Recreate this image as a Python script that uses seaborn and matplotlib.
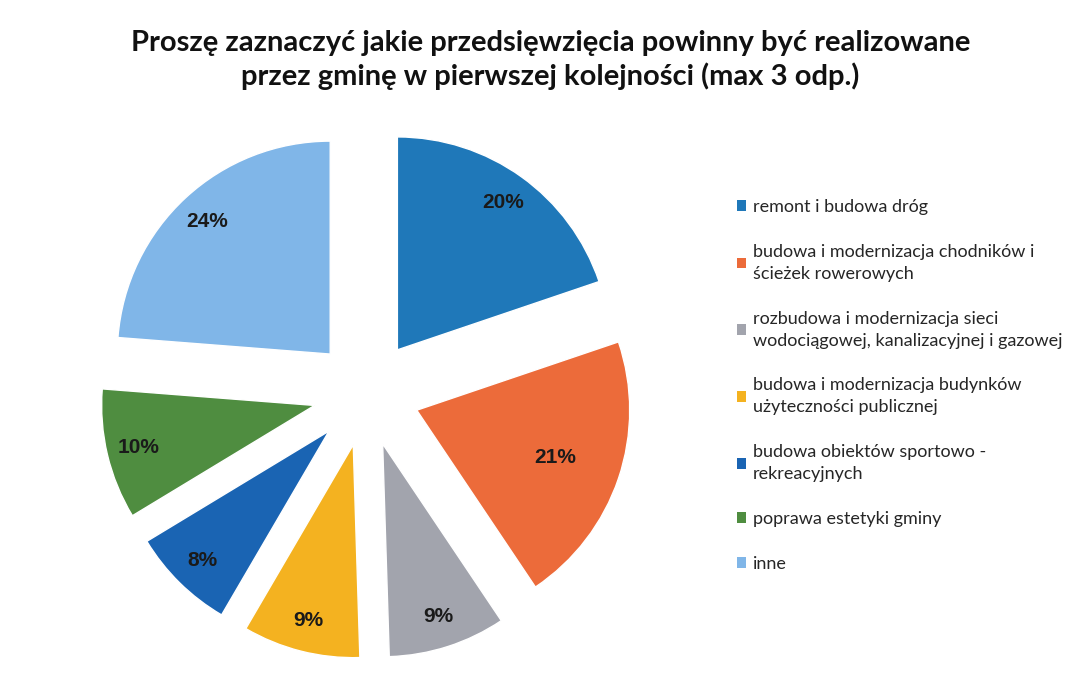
import numpy as np
import matplotlib.pyplot as plt
import seaborn as sns
from matplotlib.patches import Patch

# data (percent of answers)
categories = [
    "remont i budowa dróg",
    "budowa i modernizacja chodników i\nścieżek rowerowych",
    "rozbudowa i modernizacja sieci\nwodociągowej, kanalizacyjnej i gazowej",
    "budowa i modernizacja budynków\nużyteczności publicznej",
    "budowa obiektów sportowo -\nrekreacyjnych",
    "poprawa estetyki gminy",
    "inne",
]
values = [20, 21, 9, 9, 8, 10, 24]
colors = ["#1f78b9", "#ec6b3a", "#a2a4ad", "#f4b220", "#1a64b3", "#4f8d40", "#80b6e8"]

title = "Proszę zaznaczyć jakie przedsięwzięcia powinny być realizowane\nprzez gminę w pierwszej kolejności (max 3 odp.)"

sns.set_theme(style="white")
plt.rcParams["font.family"] = ["Lato", "DejaVu Sans"]
palette = sns.color_palette(colors)

fig = plt.figure(figsize=(10.75, 6.77), dpi=100)
ax = fig.add_axes([0.0833, 0.0103, 0.515, 0.818])

wedges, texts, autotexts = ax.pie(
    values,
    colors=palette,
    startangle=90,
    counterclock=False,
    explode=[0.25] * len(values),
    autopct=lambda p: f"{p:.0f}%",
    pctdistance=0.85,
    textprops=dict(family=["Liberation Sans", "DejaVu Sans"], fontweight="bold",
                   fontsize=15, color="#1a1a1a"),
)
# orange label sits a bit closer to the centre in the original
x, y = autotexts[1].get_position()
autotexts[1].set_position((x * 0.85, y * 0.85))

ax.set_xlim(-1.3, 1.3)
ax.set_ylim(-1.3, 1.3)
ax.set_aspect("equal")
ax.axis("off")

fig.suptitle(title, x=0.512, y=0.955, fontsize=21, fontweight="bold", color="#111111",
             linespacing=1.25)

handles = [Patch(facecolor=c, edgecolor="none") for c in palette]
leg = fig.legend(handles, categories, loc="upper left", bbox_to_anchor=(0.67, 0.73),
                 frameon=False, fontsize=13, handlelength=0.55, handleheight=0.55,
                 handletextpad=0.35, labelspacing=1.6, labelcolor="#262626")
for t in leg.get_texts():
    t.set_linespacing(1.45)

plt.savefig("out.png", dpi=100)
